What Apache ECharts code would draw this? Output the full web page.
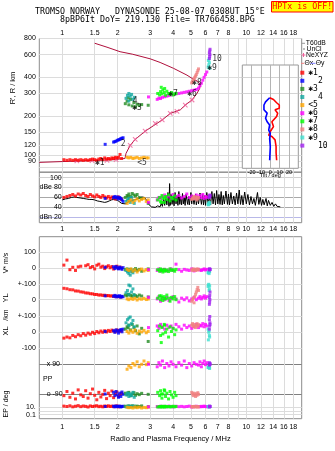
<!DOCTYPE html>
<html><head><meta charset="utf-8">
<script src="https://cdn.jsdelivr.net/npm/echarts@6/dist/echarts.min.js"></script>
<style>html,body{margin:0;padding:0;background:#fff}#c{width:335px;height:451px}</style>
</head><body><div id="c"></div>
<script>
// ---------- tick labels ----------
const freqGrid = [1,1.5,2,3,4,5,6,7,8,9,10,12,14,16,18];
const freqTop  = [1,1.5,2,3,4,5,6,7,8,10,12,14,16,18];
const freqMid  = [1,1.5,2,3,4,5,6,7,8,9,10,12,14,16,18];
const freqBot  = [1,1.5,2,3,4,5,6,7,8,10,12,14,16,18];
const hTicks   = [80,90,100,120,150,200,300,400,600,800];
const dbTicks  = [20,40,60,80,100];
const tiltTicks = [-20,-10,0,10,20];

// ---------- profile (real height) ----------
const profF = [0.75,1.0,1.3,1.6,1.9,2.19,2.22,2.34,2.49,2.82,3.49,3.86,4.38,4.66,5.07,5.40,5.58,5.62,5.55,5.40,5.17,4.76,4.02,3.40,3.00,2.40,2.06,1.75,1.50];
const profH = [87.7,89,90,91,92,94,103,119,132,153,187,210,224,244,267,301,328,349,362,375,386,416,470,522,557,605,632,685,735];
const nexF = [1.2,1.45,1.75,1.96,2.34,2.49,2.82,3.2,3.49,3.86,4.2,4.66,5.07];
const nexH = [90,90.5,91,92,119,132,153,176,187,210,218,244,267];

// ---------- tilt inset ----------
const thxT = [-0.7,3.4,6.8,9.6,9.6,5.1,7.9,6.8,1.7,3.4,0,-1.7,1.7,5.1,6.2,6.2,6.8];
const thxH = [278,269,254,244,230,224,211,199,181,166,152,142,139,131,116,104,91];
const thyT = [-0.7,-5.1,-6.8,-6.8,-3.4,-5.1,-3.4,-0.7,-1.7,0,-0.7,0,-0.7];
const thyH = [278,258,244,224,211,193,181,171,156,147,134,116,91];

// ---------- amplitude (black) ----------
const dbF = [1.0,1.04,1.08,1.12,1.16,1.2,1.25,1.3,1.35,1.4,1.45,1.5,1.55,1.6,1.65,1.7,1.75,1.8,1.85,1.9,1.95,2.0,2.05,2.1,2.15,2.2,2.25,2.3,2.4,2.5,2.6,2.7,2.8,2.9,2.95,3.0,3.05,3.1,3.2,3.3,3.4,
 3.45,3.5,3.55,3.6,3.65,3.7,3.75,3.8,3.83,3.86,3.9,3.95,4.0,4.05,4.1,4.15,4.2,4.25,4.3,4.35,4.4,4.45,4.5,4.55,4.6,4.65,4.7,4.8,4.85,4.9,5.0,5.05,5.1,5.2,5.3,5.35,5.45,5.5,5.6,5.7,5.8,5.85,5.95,6.0,6.1,6.2,6.3,6.4,6.5,6.6,6.7,6.8,6.9,7.0,7.1,7.2,7.3,7.4,7.5,7.6,7.75,7.9,8.0,8.1,8.25,8.4,8.55,8.7,8.85,9.0,9.15,9.3,9.45,9.6,9.8,10.0,10.2,10.4,10.6,10.8,11.0,11.2,11.5,11.7,11.9,12.1,12.3,12.5,12.8,13.0,13.2,13.5,13.8,14.1,14.4,14.7,15.0,15.3];
const dbV = [55,57,58,60,61,60,59,58,57,56,56,55,53,52,51,50,51,53,55,56,55,54,52,48,45,47,50,52,54,56,58,61,60,52,46,43,41,42,40,43,41,
 48,42,58,44,64,45,70,42,88,44,66,46,62,43,70,47,64,44,72,46,62,45,68,47,60,44,66,46,62,45,70,47,64,46,67,45,62,47,69,46,66,45,64,44,70,47,62,45,72,47,68,45,74,47,66,46,72,45,64,47,73,46,67,45,70,47,63,45,69,47,75,46,64,45,71,47,66,45,62,47,58,44,70,46,60,44,56,45,58,43,54,44,50,42,47,42,43,41];

// ---------- echoes: freq, height, dB, V*, YL, XL, PP, EP ----------
const e1f = [1.02,1.06,1.1,1.14,1.18,1.22,1.26,1.3,1.34,1.38,1.42,1.46,1.5,1.54,1.58,1.62,1.66,1.7,1.74,1.78,1.82,1.86,1.9,1.94,1.98,2.02,2.06,2.1];
const e1h = [92,91,92,91,92,91,92,91,92,91,92,93,92,91,93,94,92,95,93,94,93,95,94,96,95,96,101,94];
const e1db = [60,62,64,66,63,67,65,68,64,62,66,63,61,65,62,60,64,61,59,62,58,61,60,57,59,61,58,56];
const e1v = [19,51,-10,5,-15,8,12,-62,15,22,3,10,-5,18,25,6,12,-3,8,15,2,10,-6,5,12,-2,6,0];
const e1y = [74,71,65,64,57,56,51,49,44,43,39,38,34,34,30,31,28,29,26,27,24,25,22,23,20,21,18,19];
const e1x = [-37,-30,-35,-20,-28,-15,-22,-8,-18,-5,-12,0,-8,5,-3,8,0,10,2,12,5,14,8,3,15,10,6,12];
const e1p = [-100,-75,-110,-85,-120,-65,-95,-105,-70,-115,-88,-60,-98,-125,-80,-108,-92,-68,-118,-85,-100,-72,-112,-90,-78,-105,-95,-85];
const e1e = [15,12,18,10,14,20,11,16,13,9,17,12,15,19,11,14,10,16,13,18,12,15,11,14,17,10,13,12];

const e2f = [1.71,1.9,1.93,1.96,1.99,2.02,2.05,2.08,2.11,2.14];
const e2h = [121,126,127,128,130,131,132,134,135,136];
const e2db = [58,60,62,59,61,57,60,58,55,52];
const e2v = [5,8,-3,10,2,-5,6,0,-8,3];
const e2y = [25,22,28,18,24,20,26,16,22,19];
const e2x = [5,10,0,15,8,-5,12,18,3,20];
const e2p = [-90,-80,-100,-75,-95,-110,-85,-105,-78,-92];
const e2e = [12,14,10,16,11,13,15,9,12,14];

const e3f = [2.2,2.25,2.3,2.35,2.4,2.45,2.5,2.55,2.62,2.7,2.93,2.28];
const e3h = [250,262,245,270,240,255,236,248,242,246,243,278];
const e3db = [60,64,67,62,68,65,63,66,60,58,48,62];
const e3v = [-10,-5,-18,-8,-22,-12,-3,-15,-8,-20,-5,-12];
const e3y = [30,25,35,28,22,32,26,20,30,24,18,34];
const e3x = [20,35,45,15,50,30,10,40,-10,25,-58,28];
const e3p = [-85,-95,-80,-100,-90,-82,-98,-88,-94,-86,-92,-84];
const e3e = [14,11,16,12,18,13,10,15,12,17,11,14];

const e4f = [2.22,2.26,2.3,2.34,2.38,2.42,2.46,2.3];
const e4h = [275,290,300,285,295,270,280,262];
const e4db = [52,55,58,50,60,54,48,56];
const e4v = [-15,-25,-10,-45,-20,-30,-12,-35];
const e4y = [45,60,35,90,50,70,30,95];
const e4x = [60,80,45,97,55,75,35,90];
const e4p = [-95,-85,-105,-90,-100,-80,-110,-88];
const e4e = [10,13,15,11,14,12,16,9];

const e5f = [2.25,2.3,2.36,2.42,2.48,2.55,2.62,2.7,2.78,2.86,2.93];
const e5h = [96,95,96,94,95,96,94,95,96,95,95];
const e5db = [48,52,55,50,54,57,53,56,58,52,55];
const e5v = [-8,-15,-5,-20,-10,-25,-12,-6,-18,-10,-15];
const e5y = [5,0,8,2,10,-2,6,3,9,1,4];
const e5x = [5,-5,10,0,14,-6,8,2,12,-3,6];
const e5p = [60,80,70,95,85,105,75,90,110,88,100];
const e5e = [8,6,7,5,9,6,8,5,7,6,8];

const e6f = [2.94,3.28,3.35,3.42,3.5,3.6,3.7,3.8,3.9,4.0,4.15,4.3,4.45,4.6,4.75,4.9,5.05,5.2,5.35,5.5,5.6,5.7,5.8,5.9,6.0,6.1];
const e6h = [282,270,276,274,280,283,286,289,292,295,298,300,303,306,309,312,315,318,322,330,345,360,380,400,420,440];
const e6db = [50,55,60,58,62,65,60,63,58,66,61,64,59,62,67,60,63,58,65,61,64,60,66,58,62,60];
const e6v = [-10,-15,-5,-20,-10,-8,-18,-12,-5,-15,25,-10,-20,-8,-12,-15,-5,-18,-10,-8,-12,-15,-10,-5,-12,-8];
const e6y = [15,5,20,-10,10,0,15,-5,8,20,5,-15,10,0,12,-8,5,15,0,10,20,5,15,25,10,20];
const e6x = [30,40,25,50,35,20,45,30,40,25,50,35,20,45,30,40,25,35,50,30,45,40,55,35,50,40];
const e6p = [90,75,100,85,110,70,95,80,105,90,75,100,85,110,70,95,80,100,90,85,105,75,95,110,88,100];
const e6e = [10,12,9,14,11,13,10,15,12,9,14,11,13,10,12,15,9,11,14,12,10,13,11,15,12,10];

const e7f = [3.3,3.38,3.42,3.48,3.52,3.58,3.64,3.7,3.78,3.85,3.92,4.0,4.08,4.15,3.45,3.6];
const e7h = [300,292,310,298,320,305,290,312,300,295,305,292,298,300,335,328];
const e7db = [55,60,52,64,58,50,62,56,65,53,60,57,63,55,50,59];
const e7v = [-10,-20,-5,-15,-25,-8,-18,-12,-22,-5,-15,-10,-20,-8,-12,-18];
const e7y = [10,25,0,15,-5,20,5,30,10,-10,15,5,20,0,25,8];
const e7x = [10,40,-20,30,-10,50,0,20,-30,35,5,25,-15,15,-65,45];
const e7p = [-80,-100,-70,-115,-90,-65,-105,-85,-120,-75,-95,-110,-80,-100,-90,-70];
const e7e = [9,12,10,14,11,8,13,10,12,9,11,14,10,12,9,13];

const e8f = [5.05,5.1,5.15,5.2,5.25,5.3,5.35,5.4,5.45,5.5];
const e8h = [362,370,380,390,400,410,420,435,450,465];
const e8db = [56,58,60,62,57,59,61,55,58,60];
const e8v = [-10,-15,-5,-12,-8,-15,-10,-5,-12,-8];
const e8y = [-10,0,10,-20,20,35,50,65,80,60];
const e8x = [45,55,35,50,40,30,45,55,38,48];
const e8p = [-80,-90,-100,-85,-95,-105,-88,-98,-82,-92];
const e8e = [10,12,9,11,13,10,12,9,11,10];

const e9f = [6.2,6.25,6.3,6.22,6.28,6.32];
const e9h = [480,500,520,540,555,470];
const e9db = [46,48,50,45,49,47];
const e9v = [-30,-25,-20,-28,-35,-22];
const e9y = [85,100,70,95,60,90];
const e9x = [20,0,-20,-48,10,-30];
const e9p = [70,75,68,72,80,65];
const e9e = [12,10,14,11,13,9];

const e10f = [6.3,6.32,6.34,6.3,6.33,6.35];
const e10h = [560,580,600,620,640,660];
const e10db = [60,62,65,63,61,64];
const e10v = [-5,-10,-8,-12,-6,-9];
const e10y = [-30,-15,0,15,30,50];
const e10x = [20,40,60,80,100,50];
const e10p = [85,90,95,100,88,92];
const e10e = [11,13,12,10,14,12];

// echo id labels in the height panel
const tagText = ['✱1','2','4','✱3','<5','✱7','✱6','✱8','✱9','10'];
const tagF = [1.6,2.14,2.49,2.55,2.71,4.0,5.07,5.39,6.51,6.93];
const tagH = [87,122,264,230,87,296,300,365,475,555];

// ---------- build ----------
const zip = (a,b) => a.map((v,i)=>[v,b[i]]);
const echoes = [
 {n:'✱1',c:'#ff0000',f:e1f,h:e1h,db:e1db,v:e1v,y:e1y,x:e1x,p:e1p,e:e1e},
 {n:'  2',c:'#0000ff',f:e2f,h:e2h,db:e2db,v:e2v,y:e2y,x:e2x,p:e2p,e:e2e},
 {n:'✱3',c:'#228b22',f:e3f,h:e3h,db:e3db,v:e3v,y:e3y,x:e3x,p:e3p,e:e3e},
 {n:'  4',c:'#10a8a0',f:e4f,h:e4h,db:e4db,v:e4v,y:e4y,x:e4x,p:e4p,e:e4e},
 {n:'<5',c:'#ffa500',f:e5f,h:e5h,db:e5db,v:e5v,y:e5y,x:e5x,p:e5p,e:e5e},
 {n:'✱6',c:'#ff00ff',f:e6f,h:e6h,db:e6db,v:e6v,y:e6y,x:e6x,p:e6p,e:e6e},
 {n:'✱7',c:'#00ff00',f:e7f,h:e7h,db:e7db,v:e7v,y:e7y,x:e7x,p:e7p,e:e7e},
 {n:'✱8',c:'#f08080',f:e8f,h:e8h,db:e8db,v:e8v,y:e8y,x:e8x,p:e8p,e:e8e},
 {n:'✱9',c:'#40e0d0',f:e9f,h:e9h,db:e9db,v:e9v,y:e9y,x:e9x,p:e9p,e:e9e},
 {n:'  10',c:'#a020f0',f:e10f,h:e10h,db:e10db,v:e10v,y:e10y,x:e10x,p:e10p,e:e10e}
];

const SANS = '"Liberation Sans", Arial, sans-serif';
const MONO = '"DejaVu Sans Mono", monospace';
const L = 39.3, W = 262.4;
const FRAME = '#8c8c8c', GRIDC = '#dcdcdc';
const fmtF = v => String(Math.round(v*100)/100);

const grids = [
 {left:L, top:38.5, width:W, height:133.7},   // 0 height
 {left:L, top:172.2, width:W, height:50.5},   // 1 dB
 {left:L, top:236.7, width:W, height:182},    // 2 lower frame
 {left:L, top:236.7, width:W, height:39.25},  // 3 V*
 {left:L, top:276.6, width:W, height:30.8},   // 4 YL
 {left:L, top:308.6, width:W, height:47.4},   // 5 XL
 {left:L, top:356.05, width:W, height:46.2},  // 6 PP
 {left:L, top:398.9, width:W, height:19.8},   // 7 EP
 {left:242.3, top:65, width:56, height:103.3, z:3, backgroundColor:'#fff', borderColor:'#999'} // 8 inset
].map((g,i)=>Object.assign({show: i<=2 || i===8, borderColor:FRAME, borderWidth:1, containLabel:false, outerBoundsMode:'none'}, g));

function fAxis(i, opts){
  return Object.assign({
    type:'log', gridIndex:i, min:0.75, max:20, logBase:10,
    axisLine:{show:false}, axisTick:{show:false, customValues:freqGrid},
    splitLine:{show:false}, axisLabel:{show:false}
  }, opts);
}
const xAxes = [
 fAxis(0,{position:'top', splitLine:{show:true, lineStyle:{color:GRIDC, width:1}},
   axisLabel:{show:true, customValues:freqTop, formatter:fmtF, fontSize:7, fontFamily:SANS, color:'#000', margin:2}}),
 fAxis(1,{position:'bottom', splitLine:{show:true, lineStyle:{color:GRIDC, width:1}},
   axisLabel:{show:true, customValues:freqMid, formatter:fmtF, fontSize:7, fontFamily:SANS, color:'#000', margin:3}}),
 fAxis(2,{position:'bottom', splitLine:{show:true, lineStyle:{color:GRIDC, width:1}},
   axisLabel:{show:true, customValues:freqBot, formatter:fmtF, fontSize:7, fontFamily:SANS, color:'#000', margin:5}}),
 fAxis(3,{show:false}), fAxis(4,{show:false}), fAxis(5,{show:false}), fAxis(6,{show:false}), fAxis(7,{show:false}),
 {type:'value', gridIndex:8, min:-30, max:30, z:4, axisLine:{show:false},
  axisTick:{show:false, customValues:tiltTicks}, splitLine:{show:true, lineStyle:{color:'#b4b4b4'}},
  axisLabel:{show:true, customValues:tiltTicks, fontSize:5.5, fontFamily:SANS, color:'#000', margin:1}}
];

const lab = (o) => Object.assign({show:true, fontSize:7, fontFamily:SANS, color:'#000', margin:3.5}, o);
const yAxes = [
 {type:'log', gridIndex:0, min:73.6, max:800, axisLine:{show:false},
  axisTick:{show:false, customValues:hTicks}, splitLine:{show:true, lineStyle:{color:GRIDC}},
  axisLabel:lab({customValues:hTicks})},
 {type:'value', gridIndex:1, min:9, max:111, axisLine:{show:false},
  axisTick:{show:false, customValues:dbTicks},
  splitLine:{show:true, lineStyle:{color:['#b8b8e8','#a8a8a8','#a8a8a8','#d0d0d0','#d0d0d0']}},
  axisLabel:lab({customValues:dbTicks, inside:true, align:'right', margin:22.4,
    formatter:v => v===20?'dBn 20':(v===80?'dBe 80':String(v))})},
 {type:'value', gridIndex:2, min:0, max:1, show:false},
 {type:'value', gridIndex:3, min:-50, max:200, axisLine:{show:false},
  axisTick:{show:false, customValues:[0,100]}, splitLine:{show:true, lineStyle:{color:GRIDC}},
  axisLabel:lab({customValues:[0,100]})},
 {type:'value', gridIndex:4, min:-50, max:150, axisLine:{show:false},
  axisTick:{show:false, customValues:[0,100]}, splitLine:{show:true, lineStyle:{color:GRIDC}},
  axisLabel:lab({customValues:[0,100], formatter:v => v===100?'+-100':String(v)})},
 {type:'value', gridIndex:5, min:-150, max:150, axisLine:{show:false},
  axisTick:{show:false, customValues:[-100,0,100]}, splitLine:{show:true, lineStyle:{color:GRIDC}},
  axisLabel:lab({customValues:[-100,0,100], formatter:v => v===100?'+-100':String(v)})},
 {type:'value', gridIndex:6, min:-140, max:140, axisLine:{show:false},
  axisTick:{show:false, customValues:[-90,90]}, splitLine:{show:true, lineStyle:{color:'#808080'}},
  axisLabel:lab({customValues:[-90,90], inside:true, margin:7.4, formatter:v => v>0?'x 90':'o -90'})},
 {type:'log', gridIndex:7, min:0.01, max:1000, axisLine:{show:false},
  axisTick:{show:false, customValues:[0.1,1,10]}, splitLine:{show:true, lineStyle:{color:GRIDC}},
  axisLabel:lab({customValues:[0.1,10], formatter:v => v>5?'10.':'0.1'})},
 {type:'log', gridIndex:8, min:78.9, max:498, z:4, axisLine:{show:false},
  axisTick:{show:false, customValues:[100,120,150,200,300,400]}, splitLine:{show:true, lineStyle:{color:'#d4d4d4'}},
  axisLabel:{show:false}}
];

const series = [];
series.push({type:'line', name:'prof', xAxisIndex:0, yAxisIndex:0, data:zip(profF,profH), symbol:'none',
  lineStyle:{color:'#b0103c', width:1}, silent:true, z:2});
series.push({type:'scatter', name:'nexyz', xAxisIndex:0, yAxisIndex:0, data:zip(nexF,nexH),
  symbol:'path://M0 0L10 10M10 0L0 10', symbolSize:4.5, itemStyle:{color:'none', borderColor:'#f0609a', borderWidth:1.1}, silent:true, z:3});
series.push({type:'line', name:'amp', xAxisIndex:1, yAxisIndex:1, data:zip(dbF,dbV), symbol:'none',
  lineStyle:{color:'#000', width:1}, silent:true, z:2});
echoes.forEach(E => {
  [[0,E.h],[1,E.db],[3,E.v],[4,E.y],[5,E.x],[6,E.p],[7,E.e]].forEach(([ax,vals]) => {
    series.push({type:'scatter', name:E.n, xAxisIndex:ax, yAxisIndex:ax, data:zip(E.f,vals),
      symbol:'rect', symbolSize:3, itemStyle:{color:E.c}, silent:true, z:3});
  });
});
series.push({type:'scatter', name:'tags', xAxisIndex:0, yAxisIndex:0,
  data: tagText.map((t,i)=>({name:t, value:[tagF[i], tagH[i]]})), symbolSize:1, itemStyle:{color:'rgba(0,0,0,0)'},
  label:{show:true, position:'inside', formatter:'{b}', color:'#000', fontFamily:MONO, fontSize:8}, silent:true, z:4});
series.push({type:'line', name:'thx', xAxisIndex:8, yAxisIndex:8, data:zip(thxT,thxH), symbol:'none',
  lineStyle:{color:'#ff0000', width:1.6}, silent:true, z:6});
series.push({type:'line', name:'thy', xAxisIndex:8, yAxisIndex:8, data:zip(thyT,thyH), symbol:'none',
  lineStyle:{color:'#0000ff', width:1.6}, silent:true, z:6});

const T = (x,y,text,o) => ({type:'text', x, y, z:10, rotation:(o&&o.rot)||0,
  style:{text, font:(o&&o.font)||('7px '+SANS), fill:(o&&o.fill)||'#000',
    align:(o&&o.align)||'left', textAlign:(o&&o.align)||'left', verticalAlign:'middle', textVerticalAlign:'middle'}});
const graphic = [
 T(35,12.2,'TROMSO NORWAY   DYNASONDE 25-08-07 0308UT 15°E',{font:'8.3px '+MONO}),
 T(60,20,'8pBP6It DoY= 219.130 File= TR766458.BPG',{font:'8.3px '+MONO}),
 {type:'rect', z:10, shape:{x:271.5,y:1.5,width:61.5,height:10.5}, style:{fill:'#ffff00', stroke:'#ff0000', lineWidth:1}},
 T(302.3,7,'HPTx is OFF!',{font:'8.3px '+MONO, fill:'#ff0000', align:'center'}),
 T(13,88,"R', R / km",{rot:Math.PI/2, align:'center', font:'7.5px '+SANS}),
 T(6,263,'V* m/s',{rot:Math.PI/2, align:'center'}),
 T(6,298,'YL',{rot:Math.PI/2, align:'center', font:'7.5px '+SANS}),
 T(6,315,'/km',{rot:Math.PI/2, align:'center'}),
 T(6,331,'XL',{rot:Math.PI/2, align:'center', font:'7.5px '+SANS}),
 T(6,404,'EP / deg',{rot:Math.PI/2, align:'center'}),
 T(43,379,'PP'),
 T(170.5,438.7,'Radio and Plasma Frequency / MHz',{align:'center', font:'7.5px '+SANS}),
 T(270.3,175.3,'Tilt / deg',{align:'center', font:'5.5px '+SANS}),
 {type:'line', z:10, shape:{x1:301.5,y1:43.3,x2:305,y2:43.3}, style:{stroke:'#9a9a9a', lineWidth:1}},
 T(305.8,43.3,'T60dB',{font:'6.8px '+SANS}),
 {type:'rect', z:10, shape:{x:303.5,y:48.5,width:1,height:1}, style:{fill:'#000'}},
 T(306.5,49,'UnCl',{font:'6.8px '+SANS}),
 {type:'line', z:10, shape:{x1:301.5,y1:55,x2:305.5,y2:55}, style:{stroke:'#f0609a', lineWidth:1}},
 {type:'line', z:10, shape:{x1:303.5,y1:53,x2:303.5,y2:57}, style:{stroke:'#f0609a', lineWidth:1}},
 T(306,55,'NeXYZ',{font:'6.8px '+SANS}),
 {type:'line', z:10, shape:{x1:301,y1:63.3,x2:304.3,y2:63.3}, style:{stroke:'#f08080', lineWidth:1}},
 T(304.5,63.3,'Θx',{font:'6.8px '+SANS}),
 {type:'line', z:10, shape:{x1:310.5,y1:63.3,x2:315.5,y2:63.3}, style:{stroke:'#8080ff', lineWidth:1}},
 T(315.7,63.3,'Θy',{font:'6.8px '+SANS})
];

const chart = echarts.init(document.getElementById('c'), null, {renderer:'canvas'});
chart.setOption({
  animation:false, backgroundColor:'#fff',
  grid:grids, xAxis:xAxes, yAxis:yAxes, series, graphic,
  legend:{show:true, data:echoes.map(e=>e.n), orient:'vertical', left:300.3, top:68.7, padding:0,
    itemGap:0.1, itemWidth:4, itemHeight:4, icon:'rect', selectedMode:false,
    textStyle:{fontFamily:MONO, fontSize:8, color:'#000', lineHeight:8, padding:[0,0,0,-1]}}
});
</script></body></html>
